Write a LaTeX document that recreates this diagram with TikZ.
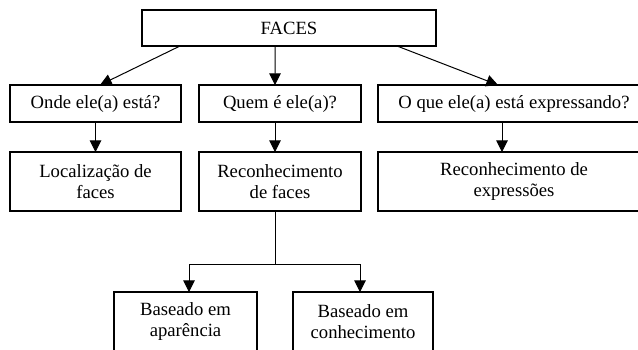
\documentclass[tikz,border=0pt]{standalone}
\usepackage{fontspec}
\setmainfont{Liberation Serif}
\usetikzlibrary{positioning,arrows.meta}

\begin{document}
\begin{tikzpicture}[
    x=0.6pt, y=-0.6pt,
    >={Triangle[length=7pt,width=7pt]},
    root/.style={rectangle, draw=black, line width=1.2pt, outer sep=0pt, minimum width=176.4pt, minimum height=21.6pt},
    question/.style={rectangle, draw=black, line width=1.2pt, outer sep=0pt, minimum height=22.2pt},
    task/.style={rectangle, draw=black, line width=1.2pt, outer sep=0pt, minimum height=35.4pt},
    link/.style={line width=0.6pt},
    every node/.style={font=\fontsize{11.2pt}{13pt}\selectfont, align=center}
]
\useasboundingbox (0,0) rectangle (638,349);
\clip (0,0) rectangle (638,349);

% Root
\node[root] (faces) at (289,28) {FACES};

% Questions
\node[question, minimum width=102.6pt] (onde) at (95.5,103.5) {Onde ele(a) está?};
\node[question, minimum width=97.2pt] (quem) [right=10.8pt of onde] {Quem é ele(a)?};
\node[question, minimum width=163.2pt] (oque) [right=10.2pt of quem] {O que ele(a) está expressando?};

% Tasks
\node[task, minimum width=102.6pt] (localizacao) [below=18pt of onde] {Localização de\\faces};
\node[task, minimum width=97.2pt] (recon_faces) [below=18pt of quem] {Reconhecimento\\de faces};
\node[task, minimum width=163.2pt] (recon_expr) [below=18pt of oque] {Reconhecimento de\\expressões};

% Methods
\node[task, minimum width=85.8pt] (base_aparencia) [below=48.6pt of recon_faces, xshift=-56.7pt] {Baseado em\\aparência};
\node[task, minimum width=84pt] (base_conhecimento) [right=21.6pt of base_aparencia] {Baseado em\\conhecimento};

% Relationships
\draw[->, link] ([xshift=-65.4pt]faces.south) -- ([xshift=2.7pt]onde.north);
\draw[->, link] ([xshift=-8.4pt]faces.south) -- ([xshift=-3pt]quem.north);
\draw[->, link] ([xshift=64.8pt]faces.south) -- ([xshift=-9.6pt]oque.north);
\draw[->, link] (onde) -- (localizacao);
\draw[->, link] ([xshift=-3pt]quem.south) -- ([xshift=-3pt]recon_faces.north);
\draw[->, link] ([xshift=-7.2pt]oque.south) -- ([xshift=-7.2pt]recon_expr.north);
\draw[link] ([xshift=-3pt]recon_faces.south) -- ++(0,53) coordinate (branch);
\draw[->, link] (branch) -| ([xshift=2.1pt]base_aparencia.north);
\draw[->, link] (branch) -| ([xshift=-1.8pt]base_conhecimento.north);

\end{tikzpicture}
\end{document}
